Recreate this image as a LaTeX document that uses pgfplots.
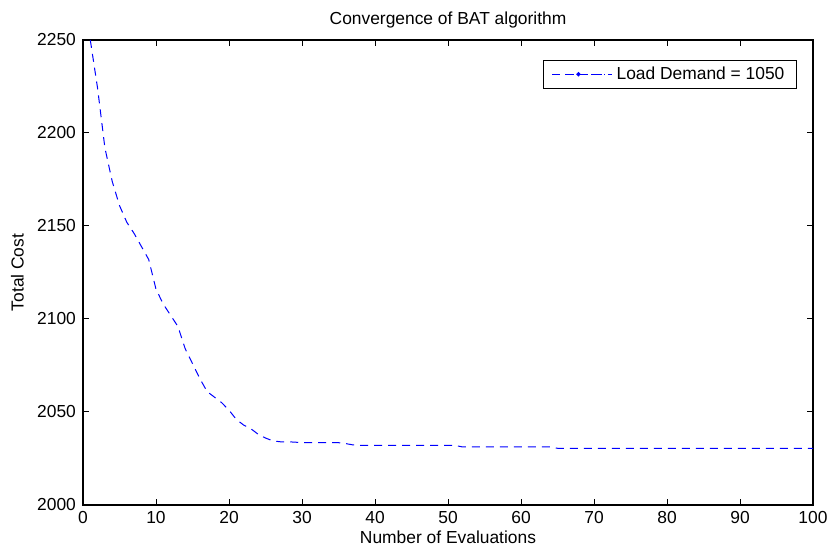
\documentclass[border=0pt]{standalone}
\usepackage{fontspec}
\setmainfont{Liberation Sans}
\usepackage{pgfplots}
\pgfplotsset{compat=1.18}

\pgfplotstableread{
x y
1 2250
2 2224
3 2192
4 2174
5 2161
6 2152
7 2146
8 2139
9 2132
10 2116
11 2108
12 2102
13 2096
14 2084
15 2076
16 2068
17 2061
18 2058
19 2055
20 2051
21 2046
22 2043
23 2041
24 2038
25 2036
26 2034.5
27 2034
28 2034
29 2033.8
30 2033.5
31 2033.5
32 2033.5
33 2033.5
34 2033.5
35 2033.5
36 2033
37 2032.3
38 2032
40 2032
45 2032
50 2032
51 2032
52 2031.2
55 2031.2
60 2031.2
64 2031.2
65 2030.5
70 2030.5
75 2030.5
80 2030.5
85 2030.5
90 2030.5
95 2030.5
100 2030.5
}\batdata

\begin{document}
\begin{tikzpicture}
\path[use as bounding box] (-41.5pt,-20pt) rectangle (373pt,252.5pt);
\begin{axis}[
    scale only axis,
    width=365pt, height=232.5pt,
    xmin=0, xmax=100,
    ymin=2000, ymax=2250,
    xtick={0,10,...,100},
    ytick={2000,2050,...,2250},
    tick pos=both,
    tick align=inside,
    major tick length=3pt,
    axis line style={line width=0.7pt},
    every tick/.style={black, line width=0.5pt},
    font=\fontsize{8.7}{10}\selectfont,
    tick label style={font=\fontsize{8.7}{10}\selectfont},
    /pgf/number format/assume math mode=true,
    /pgf/number format/1000 sep={},
    title={Convergence of BAT algorithm},
    title style={yshift=-3.5pt},
    xlabel={Number of Evaluations},
    ylabel={Total Cost},
    xlabel style={at={(axis description cs:0.5,-0.0705)}, anchor=center},
    ylabel style={at={(axis description cs:-0.09,0.5)}, anchor=center},
    xticklabel style={yshift=0.5pt},
    legend style={at={(rel axis cs:0.978,0.957)}, anchor=north east,
        draw=black, line width=0.5pt, inner xsep=4pt, inner ysep=1pt,
        font=\fontsize{8.7}{10}\selectfont, cells={anchor=west}},
    legend image code/.code={
        \path (0pt,0pt) -- (30pt,0pt);
        \draw[blue, line width=0.45pt, dash pattern=on 3pt off 3.5pt] (0pt,0pt) -- (26.5pt,0pt);
        \fill[blue] (13.2pt,0pt) circle (0.8pt);
    },
]
\addplot[blue, line width=0.5pt, dash pattern=on 4pt off 3pt] table[x=x, y=y] {\batdata};
\legend{Load Demand = 1050}
\end{axis}
\end{tikzpicture}
\end{document}
